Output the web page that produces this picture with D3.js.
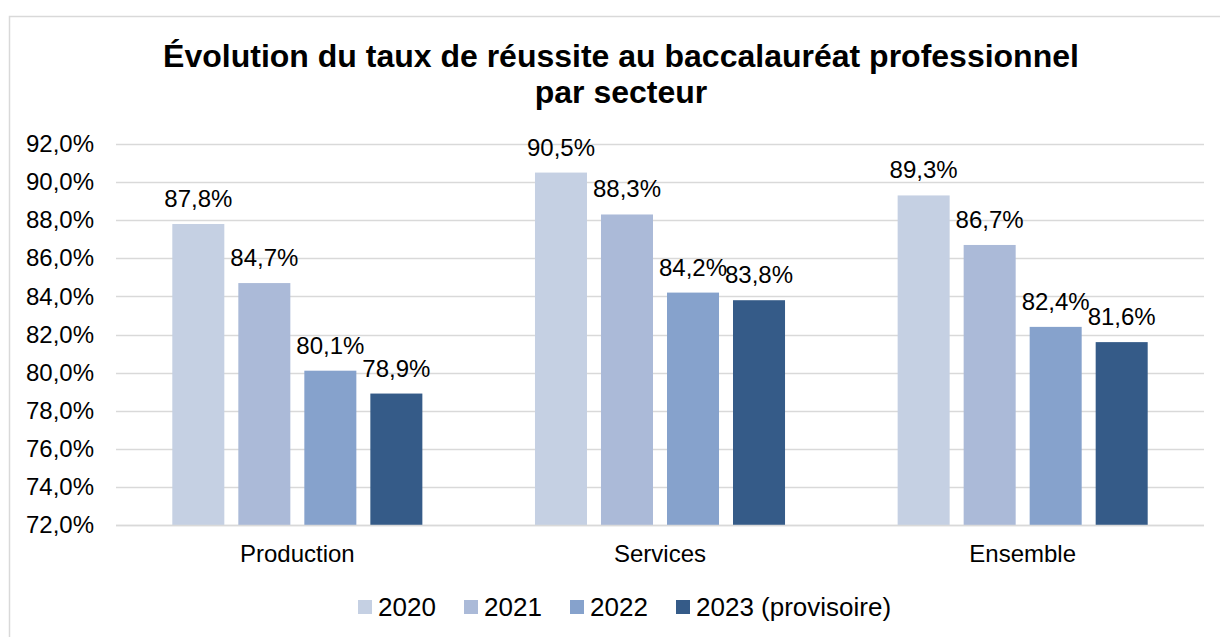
<!DOCTYPE html>
<html>
<head>
<meta charset="utf-8">
<script src="https://cdn.jsdelivr.net/npm/d3@7"></script>
<style>
  body { margin: 0; background: #fff; }
  svg { font-family: "Liberation Sans", Arial, sans-serif; }
</style>
</head>
<body>
<svg width="1220" height="637"></svg>
<script>
const categories = ['Production', 'Services', 'Ensemble']
const years = ['2020', '2021', '2022', '2023 (provisoire)']
const values2020 = [87.8, 90.5, 89.3]
const values2021 = [84.7, 88.3, 86.7]
const values2022 = [80.1, 84.2, 82.4]
const values2023 = [78.9, 83.8, 81.6]
const yTicks = [72, 74, 76, 78, 80, 82, 84, 86, 88, 90, 92]
const colors = ['#c5d0e3', '#abbad8', '#86a2cc', '#355b88']

const series = [values2020, values2021, values2022, values2023]

const svg = d3.select('svg')
const plotLeft = 116
const plotRight = 1204
const plotTop = 144
const plotBottom = 525

// outer frame (runs off the picture on the right and bottom)
svg.append('rect')
  .attr('x', 9.5).attr('y', 16.5)
  .attr('width', 1240).attr('height', 640)
  .attr('fill', 'none')
  .attr('stroke', '#d9d9d9')
  .attr('stroke-width', 1.5)

svg.append('text')
  .attr('x', 621).attr('y', 67)
  .attr('text-anchor', 'middle')
  .attr('font-size', 32).attr('font-weight', 'bold')
  .text('Évolution du taux de réussite au baccalauréat professionnel')
svg.append('text')
  .attr('x', 621).attr('y', 103)
  .attr('text-anchor', 'middle')
  .attr('font-size', 32).attr('font-weight', 'bold')
  .text('par secteur')

const y = d3.scaleLinear().domain([72, 92]).range([plotBottom, plotTop])
const x0 = d3.scaleBand().domain(categories).range([plotLeft, plotRight])
const x1 = d3.scaleBand().domain(d3.range(4)).range([0, x0.bandwidth()])
  .paddingInner(0.212).paddingOuter(0.853)

const fmt = v => d3.format('.1f')(v).replace('.', ',')

// grid lines
svg.append('g')
  .selectAll('line')
  .data(yTicks)
  .join('line')
  .attr('x1', plotLeft).attr('x2', plotRight)
  .attr('y1', d => Math.round(y(d)) + 0.5)
  .attr('y2', d => Math.round(y(d)) + 0.5)
  .attr('stroke', '#d9d9d9')
  .attr('stroke-width', 1.5)

// y axis labels
const yAxis = d3.axisLeft(y).tickValues(yTicks).tickSize(0).tickPadding(22)
  .tickFormat(d => fmt(d) + '%')
svg.append('g')
  .attr('transform', `translate(${plotLeft},0)`)
  .call(yAxis)
  .call(g => g.select('.domain').remove())
  .selectAll('text')
  .attr('font-size', 24)
  .attr('font-family', '"Liberation Sans", Arial, sans-serif')
  .attr('fill', '#000')

// bars
const groups = svg.append('g')
  .selectAll('g')
  .data(categories)
  .join('g')
  .attr('transform', d => `translate(${x0(d)},0)`)

groups.selectAll('rect')
  .data((d, i) => series.map((s, k) => ({ k, v: s[i] })))
  .join('rect')
  .attr('x', d => x1(d.k))
  .attr('width', x1.bandwidth())
  .attr('y', d => y(d.v))
  .attr('height', d => y(72) - y(d.v))
  .attr('fill', d => colors[d.k])

groups.selectAll('text')
  .data((d, i) => series.map((s, k) => ({ k, v: s[i] })))
  .join('text')
  .attr('x', d => x1(d.k) + x1.bandwidth() / 2)
  .attr('y', d => y(d.v) - 17)
  .attr('text-anchor', 'middle')
  .attr('font-size', 24)
  .attr('fill', '#000')
  .text(d => fmt(d.v) + '%')

// x axis baseline
svg.append('line')
  .attr('x1', plotLeft).attr('x2', plotRight)
  .attr('y1', plotBottom + 0.5).attr('y2', plotBottom + 0.5)
  .attr('stroke', '#d9d9d9')
  .attr('stroke-width', 1.5)

svg.append('g')
  .selectAll('text')
  .data(categories)
  .join('text')
  .attr('x', d => x0(d) + x0.bandwidth() / 2)
  .attr('y', 562)
  .attr('text-anchor', 'middle')
  .attr('font-size', 24)
  .text(d => d)

// legend
const legend = svg.append('g')
  .selectAll('g')
  .data(years)
  .join('g')
  .attr('transform', (d, i) => `translate(${358 + i * 106},600)`)
legend.append('rect')
  .attr('width', 14).attr('height', 14)
  .attr('fill', (d, i) => colors[i])
legend.append('text')
  .attr('x', 20).attr('y', 16)
  .attr('font-size', 26)
  .text(d => d)
</script>
</body>
</html>
